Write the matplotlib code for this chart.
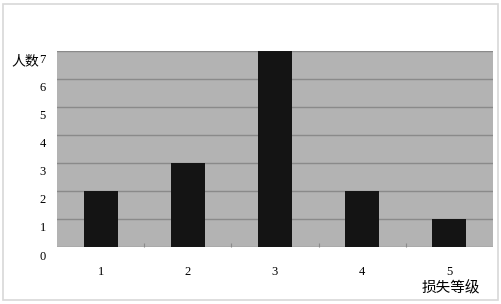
import matplotlib
matplotlib.use("Agg")
import matplotlib.pyplot as plt
import matplotlib.transforms as mtransforms
from matplotlib.patches import Rectangle

levels = [1, 2, 3, 4, 5]
counts = [2, 3, 7, 2, 1]
xticklabels = ['1', '2', '3', '4', '5']
yticks = [0, 1, 2, 3, 4, 5, 6, 7]

plt.rcParams['font.family'] = ['Liberation Serif', 'Noto Sans CJK SC']

fig = plt.figure(figsize=(5.02, 3.04), dpi=100)
# outer frame
fig.patches.append(Rectangle((0.006, 0.012), 0.986, 0.976, transform=fig.transFigure,
                             fill=False, edgecolor='#d8d8d8', linewidth=1.2))

ax = fig.add_axes([0.1135, 0.1875, 0.8685, 0.645])
ax.set_facecolor('#b3b3b3')
ax.bar(levels, counts, width=0.39, color='#141414', zorder=3)

ax.set_xlim(0.5, 5.5)
ax.set_ylim(0, 7)
ax.set_yticks(yticks)
ax.set_xticks(levels)
ax.set_xticklabels(xticklabels, fontsize=9)
ax.set_yticklabels([str(v) for v in yticks], fontsize=9)
ax.set_xticks([1.5, 2.5, 3.5, 4.5], minor=True)
ax.tick_params(axis='x', which='major', length=0, pad=14)
ax.tick_params(axis='x', which='minor', length=3, direction='in', color='#8a8a8a', width=0.8)
ax.tick_params(axis='y', length=0, pad=8)
# labels sit a bit below their gridlines
off = mtransforms.ScaledTranslation(0, -8 / 100, fig.dpi_scale_trans)
for lab in ax.get_yticklabels():
    lab.set_transform(lab.get_transform() + off)

ax.grid(axis='y', color='#8a8a8a', linewidth=1.0, zorder=1)
ax.set_axisbelow(True)
for s in ax.spines.values():
    s.set_visible(False)

fig.text(0.022, 0.80, '人数', fontsize=10, family=['Noto Sans CJK SC'], va='center')
fig.text(0.84, 0.052, '损失等级', fontsize=10.5, family=['Noto Sans CJK SC'], va='center')

fig.savefig('out.png', dpi=100, facecolor='white')
